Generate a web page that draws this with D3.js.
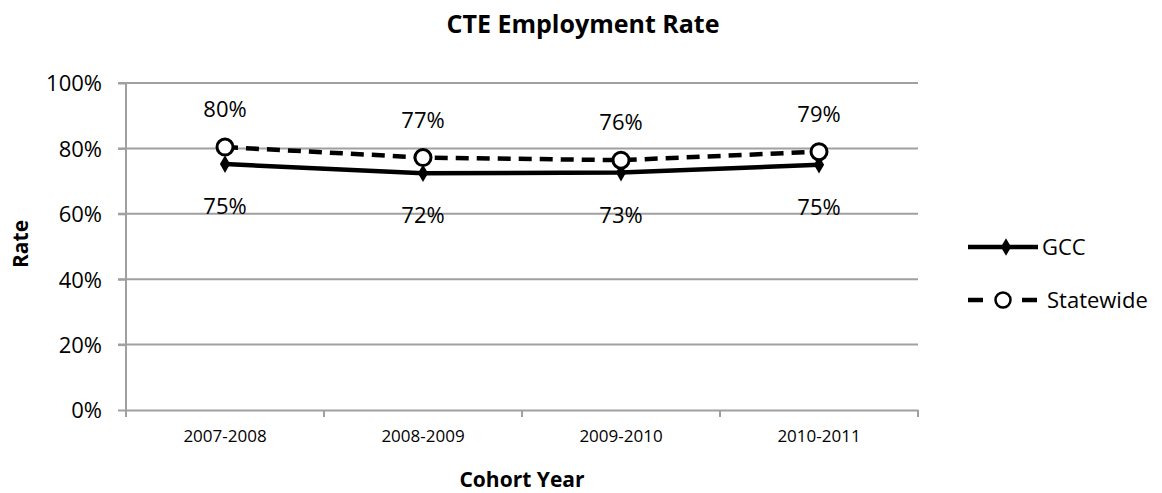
<!DOCTYPE html>
<html>
<head>
<meta charset="utf-8">
<script src="https://cdn.jsdelivr.net/npm/d3@7"></script>
<style>
  body { margin: 0; background: #fff; }
  text { font-family: "Open Sans", "Noto Sans", sans-serif; }
</style>
</head>
<body>
<div id="chart"></div>
<script>
// Daten
const years = ["2007-2008", "2008-2009", "2009-2010", "2010-2011"];
const gcc = [75.2, 72.4, 72.6, 75.0];
const statewide = [80.4, 77.2, 76.4, 79.0];
const yTicks = [0, 20, 40, 60, 80, 100];

const width = 1162, height = 493;
const margin = { top: 83, right: 244, bottom: 83, left: 126 };

const svg = d3.select("#chart").append("svg")
  .attr("width", width)
  .attr("height", height);

// Skalen
const x = d3.scaleBand()
  .domain(years)
  .range([margin.left, width - margin.right]);

const y = d3.scaleLinear()
  .domain([0, 100])
  .range([height - margin.bottom, margin.top]);

// Gitternetz
svg.append("g")
  .selectAll("line")
  .data(yTicks.filter(d => d > 0))
  .join("line")
  .attr("x1", margin.left - 8)
  .attr("x2", width - margin.right)
  .attr("y1", d => y(d))
  .attr("y2", d => y(d))
  .attr("stroke", "#a0a0a0")
  .attr("stroke-width", 2);

// Y-Achse
const yAxis = svg.append("g")
  .attr("transform", `translate(${margin.left},0)`)
  .call(d3.axisLeft(y).tickValues(yTicks).tickFormat(d => d + "%").tickSize(8).tickPadding(16));
yAxis.selectAll("line, path").attr("stroke", "#a0a0a0").attr("stroke-width", 2);
yAxis.select(".domain").attr("d", `M0,${y(0)}V${y(100)}`);
yAxis.selectAll(".tick line").attr("x1", 0).attr("x2", -8);
yAxis.selectAll("text").attr("font-size", 22).attr("fill", "#000").attr("dy", "0.36em");

// X-Achse
const xAxis = svg.append("g")
  .attr("transform", `translate(0,${y(0)})`)
  .call(d3.axisBottom(x).tickSize(0).tickPadding(20));
xAxis.select(".domain").attr("stroke", "#a0a0a0").attr("stroke-width", 2);
xAxis.selectAll("text").attr("font-size", 17).attr("fill", "#000");
xAxis.selectAll(".tick line").remove();
// Teilstriche zwischen Kategorien
xAxis.selectAll(".sep")
  .data(years.concat([null]))
  .join("line")
  .attr("x1", (d, i) => margin.left + i * x.bandwidth())
  .attr("x2", (d, i) => margin.left + i * x.bandwidth())
  .attr("y1", 0).attr("y2", 7)
  .attr("stroke", "#a0a0a0").attr("stroke-width", 2);

const cx = d => x(d) + x.bandwidth() / 2;

// Linien
const line = d3.line()
  .x((d, i) => cx(years[i]))
  .y(d => y(d));

svg.append("path")
  .datum(gcc)
  .attr("fill", "none")
  .attr("stroke", "#000")
  .attr("stroke-width", 4.5)
  .attr("d", line);

svg.append("path")
  .datum(statewide)
  .attr("fill", "none")
  .attr("stroke", "#000")
  .attr("stroke-width", 4.5)
  .attr("stroke-dasharray", "13,8")
  .attr("d", line);

// Marker GCC (Raute)
const diamond = d3.symbol().type(d3.symbolDiamond).size(90);
svg.append("g")
  .selectAll("path")
  .data(gcc)
  .join("path")
  .attr("transform", (d, i) => `translate(${cx(years[i])},${y(d)})`)
  .attr("d", diamond)
  .attr("fill", "#000");

// Marker Statewide (Kreis)
svg.append("g")
  .selectAll("circle")
  .data(statewide)
  .join("circle")
  .attr("cx", (d, i) => cx(years[i]))
  .attr("cy", d => y(d))
  .attr("r", 8)
  .attr("fill", "#fff")
  .attr("stroke", "#000")
  .attr("stroke-width", 3);

// Beschriftungen
svg.append("g")
  .selectAll("text")
  .data(statewide)
  .join("text")
  .attr("x", (d, i) => cx(years[i]))
  .attr("y", d => y(d) - 30)
  .attr("text-anchor", "middle")
  .attr("font-size", 22)
  .text(d => Math.round(d) + "%");

svg.append("g")
  .selectAll("text")
  .data(gcc)
  .join("text")
  .attr("x", (d, i) => cx(years[i]))
  .attr("y", d => y(d) + 50)
  .attr("text-anchor", "middle")
  .attr("font-size", 22)
  .text(d => Math.round(d) + "%");

// Titel
svg.append("text")
  .attr("x", 583).attr("y", 33)
  .attr("text-anchor", "middle")
  .attr("font-size", 25).attr("font-weight", "bold")
  .text("CTE Employment Rate");

svg.append("text")
  .attr("x", 522).attr("y", 487)
  .attr("text-anchor", "middle")
  .attr("font-size", 21).attr("font-weight", "bold")
  .text("Cohort Year");

svg.append("text")
  .attr("transform", "translate(28,244) rotate(-90)")
  .attr("text-anchor", "middle")
  .attr("font-size", 21).attr("font-weight", "bold")
  .text("Rate");

// Legende
const legend = svg.append("g").attr("transform", "translate(968,0)");
const lg1 = legend.append("g").attr("transform", "translate(0,247)");
lg1.append("line").attr("x1", 0).attr("x2", 70).attr("stroke", "#000").attr("stroke-width", 4.5);
lg1.append("path").attr("transform", "translate(38,0)").attr("d", diamond).attr("fill", "#000");
lg1.append("text").attr("x", 74).attr("y", 8).attr("font-size", 22).text("GCC");

const lg2 = legend.append("g").attr("transform", "translate(0,300)");
lg2.append("line").attr("x1", 0).attr("x2", 15).attr("stroke", "#000").attr("stroke-width", 4.5);
lg2.append("line").attr("x1", 54).attr("x2", 69).attr("stroke", "#000").attr("stroke-width", 4.5);
lg2.append("circle").attr("cx", 35).attr("cy", 0).attr("r", 7.5).attr("fill", "#fff").attr("stroke", "#000").attr("stroke-width", 2.5);
lg2.append("text").attr("x", 79).attr("y", 8).attr("font-size", 22).text("Statewide");
</script>
</body>
</html>
